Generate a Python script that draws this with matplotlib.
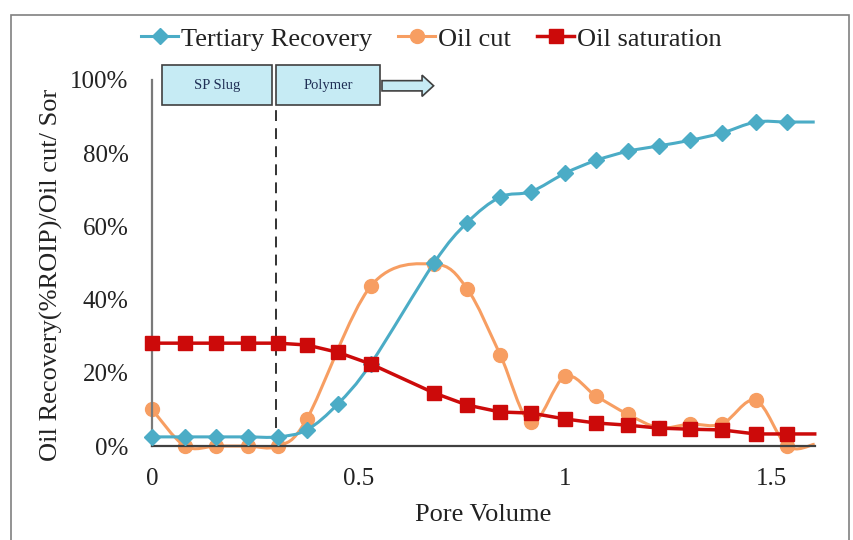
import numpy as np
import matplotlib
matplotlib.use("Agg")
import matplotlib.pyplot as plt
from matplotlib.path import Path
from matplotlib.patches import PathPatch, Rectangle, FancyArrow
from matplotlib.lines import Line2D
from matplotlib.ticker import FuncFormatter

plt.rcParams['font.family'] = ['Liberation Serif', 'DejaVu Serif']

# pore volume injected at each sample (last entry = edge of the plot, no marker)
pv_rec = [0, 0.08, 0.155, 0.232, 0.305, 0.375, 0.45, 0.53, 0.683, 0.763, 0.843,
          0.918, 1.0, 1.075, 1.152, 1.228, 1.303, 1.38, 1.462, 1.538, 1.605]
recovery = [0.025, 0.025, 0.025, 0.025, 0.025, 0.044, 0.115, 0.225, 0.50, 0.61, 0.68,
            0.695, 0.745, 0.78, 0.805, 0.82, 0.835, 0.855, 0.885, 0.885, 0.885]

pv_cut = [0, 0.08, 0.155, 0.232, 0.305, 0.375, 0.53, 0.683, 0.763, 0.843,
          0.918, 1.0, 1.075, 1.152, 1.228, 1.303, 1.38, 1.462, 1.538, 1.605]
oil_cut = [0.10, 0.0, 0.0, 0.0, 0.0, 0.074, 0.437, 0.497, 0.43, 0.25,
           0.065, 0.19, 0.137, 0.087, 0.05, 0.06, 0.06, 0.125, 0.0, 0.005]

pv_sat = [0, 0.08, 0.155, 0.232, 0.305, 0.375, 0.45, 0.53, 0.683, 0.763, 0.843,
          0.918, 1.0, 1.075, 1.152, 1.228, 1.303, 1.38, 1.462, 1.538, 1.605]
oil_sat = [0.281, 0.281, 0.281, 0.281, 0.281, 0.276, 0.256, 0.224, 0.145, 0.112, 0.093,
           0.09, 0.074, 0.063, 0.057, 0.049, 0.046, 0.044, 0.033, 0.033, 0.033]

y_ticks = [0, 0.2, 0.4, 0.6, 0.8, 1.0]
x_ticks = [0, 0.5, 1, 1.5]

c_blue = '#4bacc6'
c_orange = '#f79e62'
c_red = '#cc0a0a'


def smooth_path(x, y, t=1 / 6):
    # Catmull-Rom style bezier through the points (like a smoothed excel line)
    pts = np.column_stack([x, y])
    n = len(pts)
    verts = [pts[0]]
    codes = [Path.MOVETO]
    for i in range(n - 1):
        p0 = pts[i - 1] if i > 0 else pts[i]
        p1 = pts[i]
        p2 = pts[i + 1]
        p3 = pts[i + 2] if i + 2 < n else pts[i + 1]
        verts += [p1 + (p2 - p0) * t, p2 - (p3 - p1) * t, p2]
        codes += [Path.CURVE4] * 3
    return Path(verts, codes)


fig = plt.figure(figsize=(8.54, 5.4), dpi=100)
ax = fig.add_axes([0.178, 0.174, 0.776, 0.678])

ax.add_patch(PathPatch(smooth_path(pv_rec, recovery), fill=False, edgecolor=c_blue,
                       lw=2.2, clip_on=False, zorder=3))
ax.add_patch(PathPatch(smooth_path(pv_cut, oil_cut), fill=False, edgecolor=c_orange,
                       lw=2.2, clip_on=False, zorder=2))
ax.plot(pv_sat, oil_sat, color=c_red, lw=2.5, clip_on=False, zorder=4)

ax.plot(pv_cut[:-1], oil_cut[:-1], ls='none', marker='o', ms=10, color=c_orange,
        clip_on=False, zorder=2)
ax.plot(pv_rec[:-1], recovery[:-1], ls='none', marker='D', ms=8, color=c_blue,
        clip_on=False, zorder=3)
ax.plot(pv_sat[:-1], oil_sat[:-1], ls='none', marker='s', ms=10.5, color=c_red,
        clip_on=False, zorder=4)

# slug boundary
ax.plot([0.3, 0.3], [0, 0.935], color='#222222', lw=1.3, ls=(0, (6, 4)), zorder=1)

# injection sequence boxes
for x0, x1, txt in [(0.024, 0.29, 'SP Slug'), (0.301, 0.552, 'Polymer')]:
    ax.add_patch(Rectangle((x0, 0.932), x1 - x0, 0.108, facecolor='#c6ebf4',
                           edgecolor='#404040', lw=1.2, clip_on=False, zorder=5))
    ax.text((x0 + x1) / 2, 0.986, txt, ha='center', va='center', fontsize=10.5,
            color='#1f2f55', zorder=6)
ax.add_patch(FancyArrow(0.557, 0.984, 0.125, 0, width=0.028, head_width=0.058,
                        head_length=0.028, length_includes_head=True,
                        facecolor='#c6ebf4', edgecolor='#404040', lw=1.2,
                        clip_on=False, zorder=5))

ax.set_xlim(0, 1.605)
ax.set_ylim(0, 1.0)
ax.set_xticks(x_ticks)
ax.set_xticklabels(['0', '0.5', '1', '1.5'])
ax.set_yticks(y_ticks)
ax.yaxis.set_major_formatter(FuncFormatter(lambda v, p: f'{v * 100:.0f}%'))
ax.tick_params(length=0, labelsize=18, labelcolor='#222222')
ax.tick_params(axis='y', pad=17)
ax.tick_params(axis='x', pad=16)

for s in ['top', 'right']:
    ax.spines[s].set_visible(False)
ax.spines['left'].set_color('#7a7a7a')
ax.spines['left'].set_linewidth(1.6)
ax.spines['bottom'].set_color('#404040')
ax.spines['bottom'].set_linewidth(1.6)

ax.set_xlabel('Pore Volume', fontsize=19, color='#222222', labelpad=10)
ax.set_ylabel('Oil Recovery(%ROIP)/Oil cut/ Sor', fontsize=19, color='#222222',
              labelpad=5, y=0.467)

handles = [
    Line2D([], [], color=c_blue, lw=2.2, marker='D', ms=8),
    Line2D([], [], color=c_orange, lw=2.2, marker='o', ms=10),
    Line2D([], [], color=c_red, lw=2.5, marker='s', ms=10),
]
fig.legend(handles, ['Tertiary Recovery', 'Oil cut', 'Oil saturation'],
           loc='center', bbox_to_anchor=(0.505, 0.928), ncol=3, frameon=False,
           fontsize=19, handlelength=1.4, handletextpad=0.1, columnspacing=1.0,
           labelcolor='#222222')

# outer frame
fig.add_artist(Rectangle((11 / 854, -0.02), 838 / 854, 0.992, transform=fig.transFigure,
                         fill=False, edgecolor='#808080', lw=1.2))

fig.savefig('out.png', dpi=100)
